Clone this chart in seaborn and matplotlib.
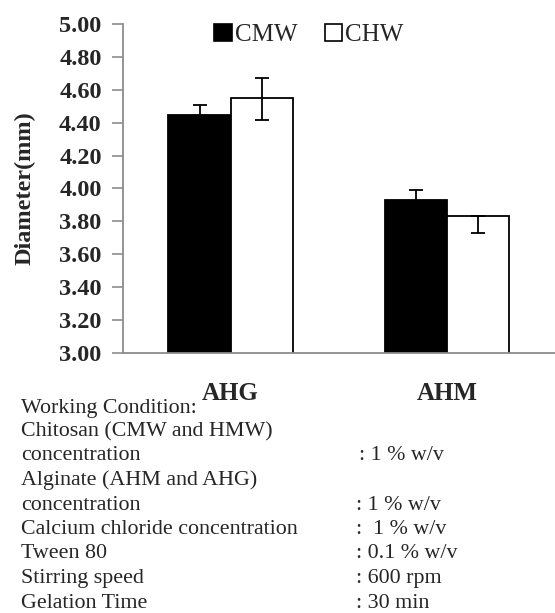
import matplotlib
matplotlib.use("Agg")
import matplotlib.pyplot as plt
import seaborn as sns
import pandas as pd
import numpy as np
from matplotlib.patches import Patch

# ---- data ----
categories = ["AHG", "AHM"]
series_names = ["CMW", "CHW"]
cmw_values = [4.45, 3.93]
chw_values = [4.55, 3.83]
cmw_err_low = [0.06, 0.06]
cmw_err_high = [0.06, 0.06]
chw_err_low = [0.13, 0.10]
chw_err_high = [0.12, 0.0]
y_ticks = [3.00, 3.20, 3.40, 3.60, 3.80, 4.00, 4.20, 4.40, 4.60, 4.80, 5.00]
y_label = "Diameter(mm)"

condition_labels = [
    "Working Condition:",
    "Chitosan (CMW and HMW)",
    "concentration",
    "Alginate (AHM and AHG)",
    "concentration",
    "Calcium chloride concentration",
    "Tween 80",
    "Stirring speed",
    "Gelation Time",
]
condition_values = [
    "",
    "",
    ": 1 % w/v",
    "",
    ": 1 % w/v",
    ":  1 % w/v",
    ": 0.1 % w/v",
    ": 600 rpm",
    ": 30 min",
]

df = pd.DataFrame({
    "Alginate": categories * 2,
    "Chitosan": [series_names[0]] * 2 + [series_names[1]] * 2,
    "Diameter": cmw_values + chw_values,
})

sns.set_theme(style="white")
plt.rcParams["font.family"] = ["Liberation Serif", "DejaVu Serif"]

W, H = 555, 613
fig = plt.figure(figsize=(W / 100, H / 100), dpi=100)
ax_left = 122.5 / W
ax_bottom = (H - 352.7) / H
ax_top = (H - 24.3) / H
ax = fig.add_axes([ax_left, ax_bottom, 1.0 - ax_left, ax_top - ax_bottom])

sns.barplot(data=df, x="Alginate", y="Diameter", hue="Chitosan",
            palette=["black", "white"], edgecolor="black", linewidth=1.3,
            width=0.575, legend=False, errorbar=None, ax=ax, zorder=2)

# error bars at the bar centres
cmw_x = []
chw_x = []
for p in ax.patches:
    cx = p.get_x() + p.get_width() / 2
    if np.allclose(p.get_facecolor()[:3], (0, 0, 0)):
        cmw_x.append(cx)
    else:
        chw_x.append(cx)
cmw_x = sorted(cmw_x)
chw_x = sorted(chw_x)
ax.errorbar(cmw_x, cmw_values, yerr=[cmw_err_low, cmw_err_high], fmt="none",
            ecolor="black", elinewidth=1.3, capsize=4.8, capthick=1.3, zorder=3)
ax.errorbar(chw_x, chw_values, yerr=[chw_err_low, chw_err_high], fmt="none",
            ecolor="black", elinewidth=1.3, capsize=4.8, capthick=1.3, zorder=3)

ax.set_ylim(3.0, 5.0)
ax.set_xlim(-0.5, 1.475)
ax.set_yticks(y_ticks)
ax.set_yticklabels([f"{v:.2f}" for v in y_ticks], fontsize=17.5, fontweight="bold")
ax.set_xticks([0, 1])
ax.set_xticklabels(categories, fontsize=18, fontweight="bold")
ax.set_xticks([-0.5, 0.5, 1.5], minor=True)
ax.tick_params(axis="x", which="major", length=0, pad=21)
ax.tick_params(axis="x", which="minor", length=9, width=1.2, color="#8c8c8c", direction="out")
ax.tick_params(axis="y", length=8, width=1.2, color="#8c8c8c", direction="out", pad=7,
               left=True)
ax.set_xlabel("")
ax.set_ylabel(y_label, fontsize=17.5, fontweight="bold")
ax.yaxis.set_label_coords(-0.2, 0.5)
for s in ["top", "right"]:
    ax.spines[s].set_visible(False)
for s in ["left", "bottom"]:
    ax.spines[s].set_color("#8c8c8c")
    ax.spines[s].set_linewidth(1.3)
ax.grid(False)

handles = [Patch(facecolor="black", edgecolor="black", linewidth=1.2),
           Patch(facecolor="white", edgecolor="black", linewidth=1.2)]
fig.legend(handles, series_names, loc="center", bbox_to_anchor=(309 / W, 1 - 35 / H),
           ncol=2, frameon=False, fontsize=18, handlelength=0.7, handleheight=0.7,
           handletextpad=0.12, columnspacing=1.1, borderpad=0)

# working condition text block
line_y = [408, 432, 456, 480, 505, 529, 554, 579, 603]
value_x = [356, 356, 359, 356, 356, 356, 356, 356, 356]
for lab, val, yy, vx in zip(condition_labels, condition_values, line_y, value_x):
    fig.text(21 / W, 1 - yy / H, lab, fontsize=15.8, va="center", ha="left")
    if val:
        fig.text(vx / W, 1 - yy / H, val, fontsize=15.8, va="center", ha="left")

fig.savefig("out.png", dpi=100)
